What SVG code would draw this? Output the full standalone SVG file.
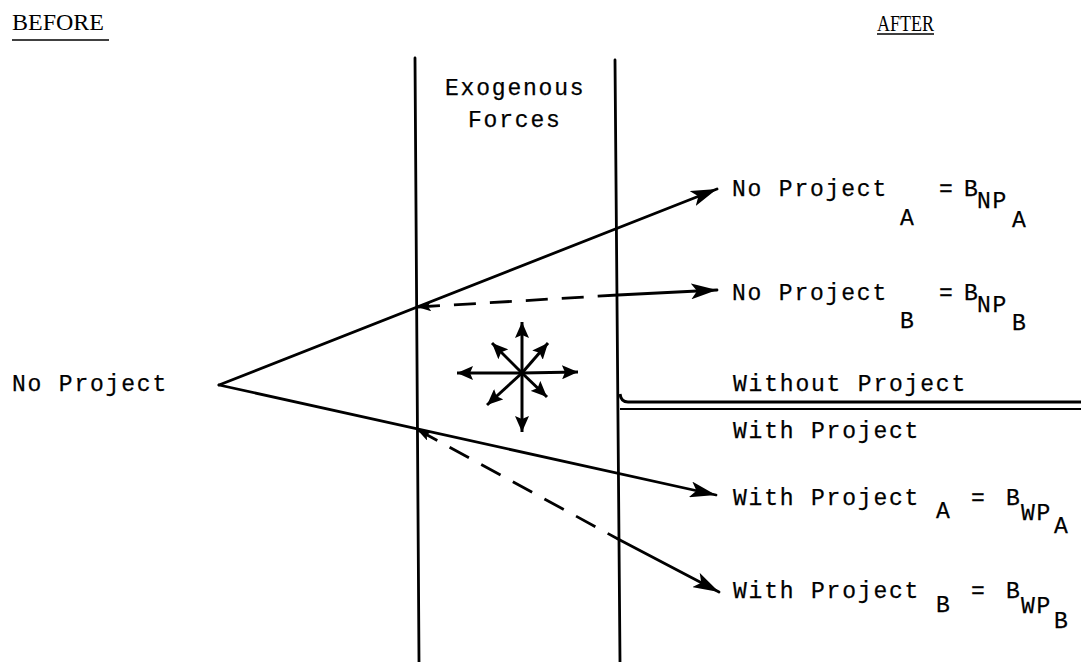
<svg xmlns="http://www.w3.org/2000/svg" width="1081" height="662" viewBox="0 0 1081 662">
<style>
.t{font-family:"Liberation Mono","DejaVu Sans Mono",monospace;font-size:23px;letter-spacing:1.8px;fill:#000;stroke:#000;stroke-width:0.25}
.h{font-family:"Liberation Serif","Times New Roman",serif;font-size:24px;fill:#000}
.ln{stroke:#000;stroke-width:2.8;fill:none;stroke-linecap:round}
.ds{stroke:#000;stroke-width:2.8;fill:none;stroke-dasharray:22 14}
.st{stroke:#000;stroke-width:3;fill:none}
</style>
<defs>
<marker id="ah" markerUnits="userSpaceOnUse" markerWidth="28" markerHeight="16" refX="26" refY="8" orient="auto">
<path d="M0,0 L26,8 L0,16 L6,8 Z" fill="#000"/>
</marker>
<marker id="sh" markerUnits="userSpaceOnUse" markerWidth="18" markerHeight="14" refX="16" refY="7" orient="auto">
<path d="M0,0 L16,7 L0,14 L3,7 Z" fill="#000"/>
</marker>
<marker id="bk" markerUnits="userSpaceOnUse" markerWidth="16" markerHeight="10" refX="1" refY="5" orient="auto">
<path d="M0,5 L14,0 L11,5 L14,10 Z" fill="#000"/>
</marker>
</defs>
<rect width="1081" height="662" fill="#fff"/>

<g id="headers">
<text class="h" x="12" y="30">BEFORE</text>
<line x1="12" y1="40" x2="109" y2="40" stroke="#000" stroke-width="1.6"/>
<text class="h" x="877" y="31" textLength="57" lengthAdjust="spacingAndGlyphs">AFTER</text>
<line x1="877" y1="34" x2="934" y2="34" stroke="#000" stroke-width="1.6"/>
</g>

<g id="exogenous">
<line class="ln" x1="415" y1="58" x2="419" y2="662"/>
<line class="ln" x1="615" y1="60" x2="620" y2="662"/>
<text class="t" x="445" y="95">Exogenous</text>
<text class="t" x="468" y="127">Forces</text>
</g>

<g id="forces">
<g class="st">
<line x1="522" y1="373" x2="522" y2="322" marker-end="url(#sh)"/>
<line x1="522" y1="373" x2="522" y2="432" marker-end="url(#sh)"/>
<line x1="522" y1="373" x2="457" y2="373" marker-end="url(#sh)"/>
<line x1="522" y1="373" x2="578" y2="372" marker-end="url(#sh)"/>
<line x1="522" y1="373" x2="548" y2="343" marker-end="url(#sh)"/>
<line x1="522" y1="373" x2="492" y2="343" marker-end="url(#sh)"/>
<line x1="522" y1="373" x2="547" y2="397" marker-end="url(#sh)"/>
<line x1="522" y1="373" x2="487" y2="405" marker-end="url(#sh)"/>
</g>
</g>

<g id="no-project-start">
<text class="t" x="12" y="391">No Project</text>
</g>

<g id="divider">
<path d="M620,394 Q621,402 628,402 L1081,402" stroke="#000" stroke-width="3" fill="none"/>
<line x1="620" y1="409" x2="1081" y2="409" stroke="#000" stroke-width="1.8"/>
<text class="t" x="733" y="391">Without Project</text>
<text class="t" x="733" y="438">With Project</text>
</g>

<g id="connectors">
<line class="ln" x1="219" y1="385" x2="717" y2="189" marker-end="url(#ah)"/>
<line class="ds" x1="418" y1="307" x2="618" y2="295" marker-start="url(#bk)"/>
<line class="ln" x1="618" y1="295" x2="717" y2="290" marker-end="url(#ah)"/>
<line class="ln" x1="219" y1="385" x2="716" y2="495" marker-end="url(#ah)"/>
<line class="ds" x1="418" y1="430" x2="618" y2="539" marker-start="url(#bk)"/>
<line class="ln" x1="618" y1="539" x2="719" y2="592" marker-end="url(#ah)"/>
</g>

<g id="no-project-a">
<text class="t" x="732" y="196">No Project</text>
<text class="t" x="900" y="225">A</text>
<text class="t" x="939" y="196">=</text>
<text class="t" x="964" y="196">B</text>
<text class="t" x="977" y="208">NP</text>
<text class="t" x="1012" y="227">A</text>
</g>

<g id="no-project-b">
<text class="t" x="732" y="300">No Project</text>
<text class="t" x="900" y="328">B</text>
<text class="t" x="939" y="300">=</text>
<text class="t" x="964" y="300">B</text>
<text class="t" x="977" y="312">NP</text>
<text class="t" x="1012" y="330">B</text>
</g>

<g id="with-project-a">
<text class="t" x="733" y="505">With Project</text>
<text class="t" x="936" y="518">A</text>
<text class="t" x="971" y="505">=</text>
<text class="t" x="1006" y="505">B</text>
<text class="t" x="1021" y="520">WP</text>
<text class="t" x="1054" y="533">A</text>
</g>

<g id="with-project-b">
<text class="t" x="733" y="598">With Project</text>
<text class="t" x="936" y="612">B</text>
<text class="t" x="971" y="598">=</text>
<text class="t" x="1006" y="598">B</text>
<text class="t" x="1021" y="613">WP</text>
<text class="t" x="1054" y="628">B</text>
</g>
</svg>
